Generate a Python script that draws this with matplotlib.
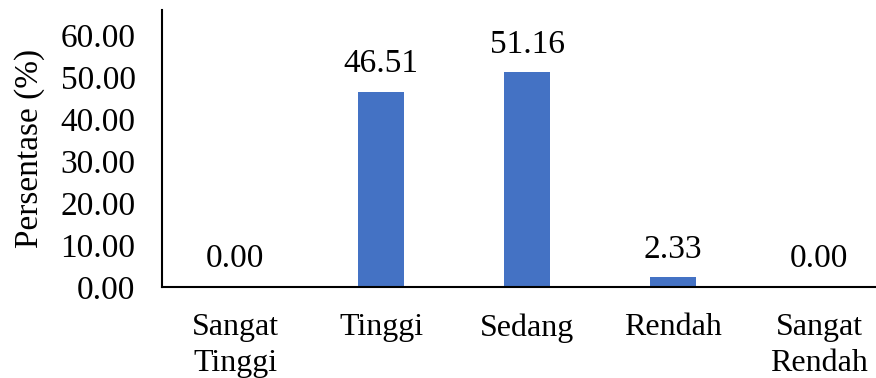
import matplotlib.pyplot as plt

plt.rcParams['font.family'] = ['Liberation Serif', 'DejaVu Serif']

kategori = ['Sangat\nTinggi', 'Tinggi', 'Sedang', 'Rendah', 'Sangat\nRendah']
persentase = [0.00, 46.51, 51.16, 2.33, 0.00]
yticks = [0, 10, 20, 30, 40, 50, 60]

fig = plt.figure(figsize=(8.76, 3.78), dpi=100)
ax = fig.add_axes([162 / 876, 91 / 378, 730 / 876, 277 / 378])

x = range(len(kategori))
bars = ax.bar(x, persentase, width=0.32, color='#4472C4')

# nilai di atas tiap batang
for xi, v in zip(x, persentase):
    ax.annotate(f'{v:.2f}', (xi, v), xytext=(0, 20), textcoords='offset points',
                ha='center', va='center', fontsize=24)

ax.set_xlim(-0.5, 4.5)
ax.set_ylim(0, 66)
ax.set_yticks(yticks)
ax.set_yticklabels([f'{t:.2f}' for t in yticks], fontsize=24)
ax.set_xticks(list(x))
ax.set_xticklabels(kategori, fontsize=23, linespacing=1.3)
ax.tick_params(axis='y', length=0, pad=19)
ax.tick_params(axis='x', length=0, pad=19)
ax.set_ylabel('Persentase (%)', fontsize=24, labelpad=11)

for s in ['top', 'right']:
    ax.spines[s].set_visible(False)
for s in ['left', 'bottom']:
    ax.spines[s].set_linewidth(1.5)
    ax.spines[s].set_color('black')

fig.savefig('out.png', dpi=100)
